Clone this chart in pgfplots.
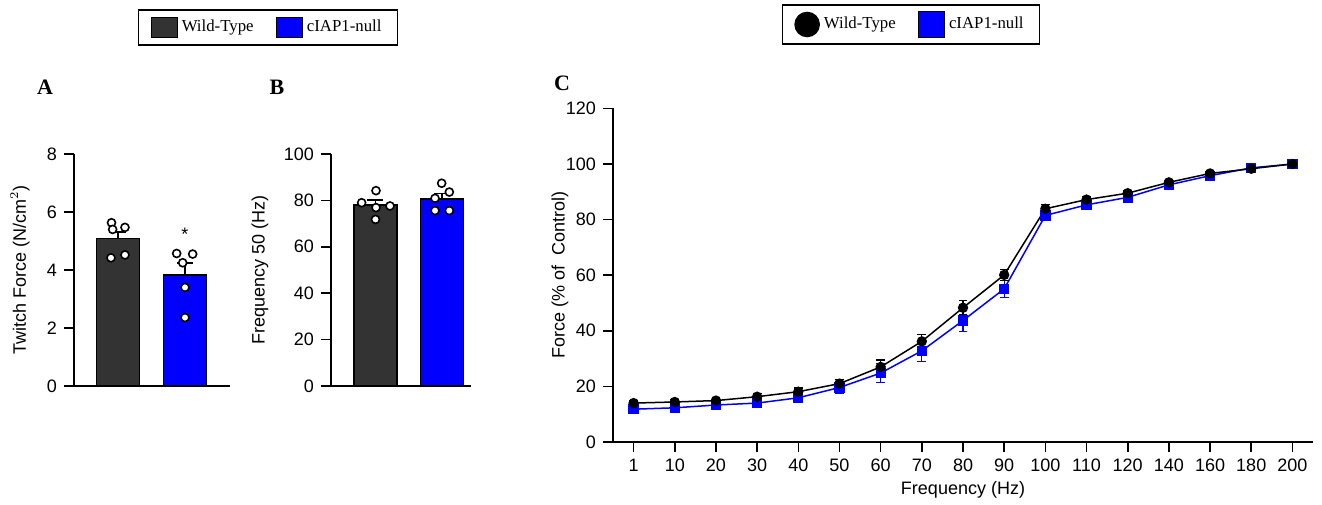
\documentclass[border=0pt]{standalone}
\usepackage{pgfplots}
\pgfplotsset{compat=1.18}
\usepackage{fontspec}
\setmainfont{Liberation Sans}
\newfontfamily\serif{Liberation Serif}
\definecolor{wt}{RGB}{51,51,51}
\definecolor{ko}{RGB}{0,0,255}
\pgfplotsset{
  common/.style={
    scale only axis,
    axis lines*=left,
    axis line style={line width=0.8pt},
    tick style={line width=0.8pt, black},
    tick align=outside,
    major tick length=5pt,
    ymin=0,
    tick label style={font=\fontsize{9}{10}\selectfont},
    label style={font=\fontsize{9}{10}\selectfont},
    /pgf/number format/assume math mode=true,
    clip=false,
  },
  barpanel/.style={
    common,
    xtick=\empty,
    x axis line style={line width=0.8pt},
  },
  pts/.style={only marks, mark=*, mark size=2pt, mark options={fill=white, draw=black, line width=0.8pt}},
  barerr/.style={error bars/.cd, y dir=plus, y explicit, error bar style={line width=0.8pt, black}, error mark options={line width=0.8pt, mark size=4pt, black, rotate=90}},
  lineerr/.style={error bars/.cd, y dir=both, y explicit, error bar style={line width=0.6pt}, error mark options={line width=0.6pt, mark size=2.2pt, rotate=90}},
}
\begin{document}
\begin{tikzpicture}
\path[use as bounding box] (0,0) rectangle (661pt,252pt);
% Panel A
\begin{axis}[barpanel, at={(37pt,59pt)}, anchor=south west, width=78pt, height=116pt,
  xmin=-0.657, xmax=1.672, ymax=8, ytick={0,2,...,8},
  ylabel={Twitch Force (N/cm$^2$)},
  ylabel style={at={(axis description cs:-0.346,0.5)}, anchor=center},
  legend style={at={(axis description cs:1.244,1.545)}, anchor=center, draw=black, line width=0.8pt,
    font=\serif\fontsize{8.4}{10}\selectfont, legend columns=2,
    /tikz/every even column/.style={column sep=9pt}, inner xsep=6pt, inner ysep=3pt},
  legend cell align=left]
\addlegendimage{legend image code/.code={\draw[fill=wt, draw=black, line width=0.6pt] (0pt,-5pt) rectangle (13pt,5pt);}}
\addlegendentry{Wild-Type}
\addlegendimage{legend image code/.code={\draw[fill=ko, draw=black, line width=0.6pt] (0pt,-5pt) rectangle (13pt,5pt);}}
\addlegendentry{cIAP1-null}
\addplot[ybar, bar width=21.5pt, fill=wt, draw=black, line width=0.8pt, barerr] coordinates {(0,5.09) +- (0,0.23)};
\addplot[ybar, bar width=21.5pt, fill=ko, draw=black, line width=0.8pt, barerr] coordinates {(1,3.83) +- (0,0.42)};
\addplot[pts] coordinates {(-0.097,5.63) (-0.08,5.40) (0.104,5.47) (-0.105,4.42) (0.104,4.52)};
\addplot[pts] coordinates {(0.876,4.57) (1.115,4.55) (0.966,4.25) (1.0,3.40) (1.0,2.36)};
\node[font=\fontsize{9}{10}\selectfont] at (axis cs:1,5.22) {*};
\end{axis}
% Panel B
\begin{axis}[barpanel, at={(165.5pt,59pt)}, anchor=south west, width=70pt, height=116pt,
  xmin=-0.669, xmax=1.436, ymax=100, ytick={0,20,...,100},
  ylabel={Frequency 50 (Hz)},
  ylabel style={at={(axis description cs:-0.507,0.5)}, anchor=center}]
\addplot[ybar, bar width=21.5pt, fill=wt, draw=black, line width=0.8pt, barerr] coordinates {(0,77.9) +- (0,2.3)};
\addplot[ybar, bar width=21.5pt, fill=ko, draw=black, line width=0.8pt, barerr] coordinates {(1,80.6) +- (0,2.4)};
\addplot[pts] coordinates {(-0.208,79.0) (0.0075,84.2) (0.0075,76.9) (0.218,77.6) (0,71.8)};
\addplot[pts] coordinates {(0.995,87.4) (1.11,83.6) (0.895,80.9) (0.895,75.6) (1.11,75.6)};
\end{axis}
% Panel C
\begin{axis}[common, at={(306.5pt,31pt)}, anchor=south west, width=350pt, height=166.8pt,
  xmin=-0.5, xmax=16.5, ymax=120, ytick={0,20,...,120},
  xtick={0,...,16}, xticklabels={1,10,20,30,40,50,60,70,80,90,100,110,120,140,160,180,200},
  xlabel={Frequency (Hz)}, ylabel={Force (\% of\ \ Control)},
  xlabel style={at={(axis description cs:0.5,-0.144)}, anchor=center},
  ylabel style={at={(axis description cs:-0.0757,0.5)}, anchor=center},
  legend style={at={(axis description cs:0.4257,1.2515)}, anchor=center, draw=black, line width=0.8pt,
    font=\serif\fontsize{8.4}{10}\selectfont, legend columns=2,
    /tikz/every even column/.style={column sep=9pt}, inner xsep=6pt, inner ysep=3pt},
  legend cell align=left]
\addlegendimage{legend image code/.code={\fill[black] (6pt,0pt) circle (6pt);}}
\addlegendentry{Wild-Type}
\addlegendimage{legend image code/.code={\draw[fill=ko, draw=black, line width=0.6pt] (0pt,-6.5pt) rectangle (13pt,6.5pt);}}
\addlegendentry{cIAP1-null}
\addplot[ko, line width=0.75pt, mark=square*, mark size=2.2pt, mark options={solid}, lineerr] coordinates {
(0,11.8) +- (0,0.8) (1,12.3) +- (0,0.8) (2,13.3) +- (0,0.8) (3,14.0) +- (0,0.9) (4,15.9) +- (0,1.1)
(5,19.6) +- (0,2.0) (6,24.8) +- (0,3.3) (7,32.8) +- (0,3.8) (8,43.7) +- (0,4.0) (9,55.1) +- (0,3.0)
(10,81.5) +- (0,1.0) (11,85.3) +- (0,0.9) (12,88.0) +- (0,0.8) (13,92.5) +- (0,0.8) (14,95.8) +- (0,0.6)
(15,98.6) +- (0,0.5) (16,100) +- (0,0)};
\addplot[black, line width=0.75pt, mark=*, mark size=2.2pt, lineerr] coordinates {
(0,14.0) +- (0,0.8) (1,14.4) +- (0,0.8) (2,14.9) +- (0,0.8) (3,16.3) +- (0,1.2) (4,18.1) +- (0,1.3)
(5,21.0) +- (0,1.5) (6,27.0) +- (0,2.5) (7,36.2) +- (0,2.4) (8,48.3) +- (0,2.5) (9,60.1) +- (0,2.0)
(10,83.9) +- (0,1.5) (11,87.2) +- (0,1.2) (12,89.5) +- (0,0.8) (13,93.4) +- (0,0.8) (14,96.6) +- (0,0.6)
(15,98.3) +- (0,0.5) (16,100) +- (0,0)};
\end{axis}
\node[font=\serif\bfseries\fontsize{11}{12}\selectfont] at (22.5pt,208.5pt) {A};
\node[font=\serif\bfseries\fontsize{11}{12}\selectfont] at (138.5pt,208.5pt) {B};
\node[font=\serif\bfseries\fontsize{11}{12}\selectfont] at (281pt,210.5pt) {C};
\end{tikzpicture}
\end{document}
